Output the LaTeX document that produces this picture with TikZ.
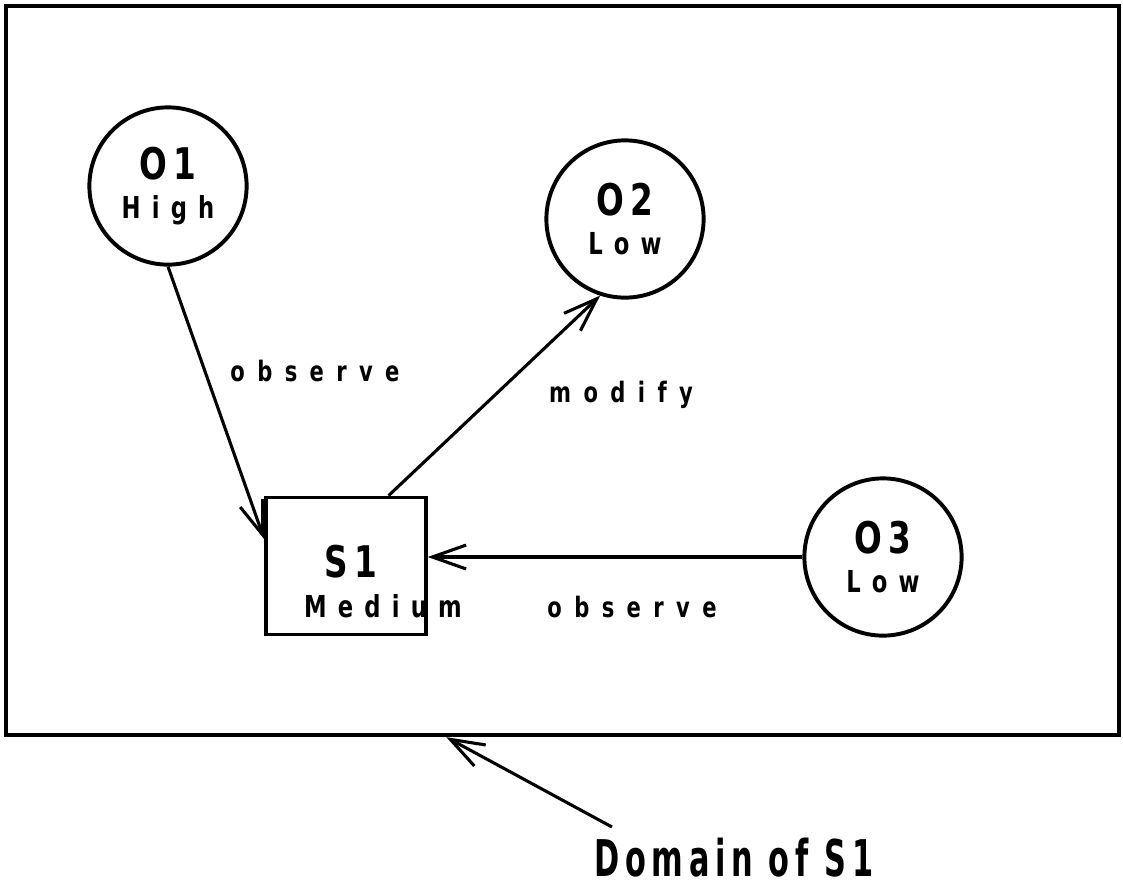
\documentclass[tikz,border=0pt]{standalone}
\usepackage{fontspec}
\usetikzlibrary{positioning,arrows.meta,calc}
\newfontfamily\plotfont[FakeStretch=0.75]{DejaVu Sans}
\newfontfamily\capfamily[FakeStretch=0.6]{DejaVu Sans}
\newcommand{\idfont}{\plotfont\bfseries\fontsize{31}{31}\selectfont\addfontfeature{LetterSpace=14}}
\newcommand{\lvlfont}{\plotfont\bfseries\fontsize{21.5}{28}\selectfont\addfontfeature{LetterSpace=37}}
\newcommand{\opfont}{\plotfont\bfseries\fontsize{20}{24}\selectfont\addfontfeature{LetterSpace=44}}
\newcommand{\capfont}{\capfamily\bfseries\fontsize{36}{40}\selectfont\addfontfeature{LetterSpace=11}}

\begin{document}
\begin{tikzpicture}[x=0.025cm, y=-0.025cm,
                    objnode/.style={circle, draw, line width=2.8pt, minimum size=3.93cm, inner sep=0pt, align=center},
                    subjnode/.style={rectangle, draw, line width=2.4pt, minimum width=4cm, minimum height=3.43cm, inner sep=0pt},
                    oplabel/.style={font=\opfont, inner sep=0pt},
                    arr/.style={-{Straight Barb[length=24pt,width=17pt]}, line width=2.2pt}]
    \useasboundingbox (0,0) rectangle (1123,888);
    % domain
    \node[draw, line width=2.8pt, minimum width=27.83cm, minimum height=18.23cm, inner sep=0pt] (dom) at (562.5,370.5) {};
    % nodes
    \node[objnode]      (O1)    at (168,186)    {\idfont O1\\[10pt]\lvlfont High};
    \node[objnode]      (O2)    at (625,219)    {\idfont O2\\[10pt]\lvlfont Low};
    \node[objnode]      (O3)    at (883,557)    {\idfont O3\\[10pt]\lvlfont Low};
    \node[subjnode]     (S1)    at (346,566)    {};
    \node[font=\idfont, inner sep=0pt]  (S1id)   at (351,562)  {S1};
    \node[font=\lvlfont, inner sep=0pt] (S1lvl)  at (383,606)  {Medium};
    % labels
    \node[oplabel]      (obs1)  at (315,371)    {observe};
    \node[oplabel]      (mod)   at (621,395)    {modify};
    \node[oplabel]      (obs3)  at (632,607)    {observe};
    \node[font=\capfont, inner sep=0pt] (domlbl) at (734,858) {Domain of S1};
    \coordinate (tail) at (612,827);
    % lines
    \draw[arr] (O1.south) -- ($(S1.north west)!0.31!(S1.south west)$);
    \draw[arr] ($(S1.north west)!0.76!(S1.north east)$) -- (O2.252);
    \draw[arr] (O3.west) -- (O3.west -| S1.east);
    \draw[arr] (tail) -- ($(dom.south west)!0.396!(dom.south east)$);
\end{tikzpicture}
\end{document}
